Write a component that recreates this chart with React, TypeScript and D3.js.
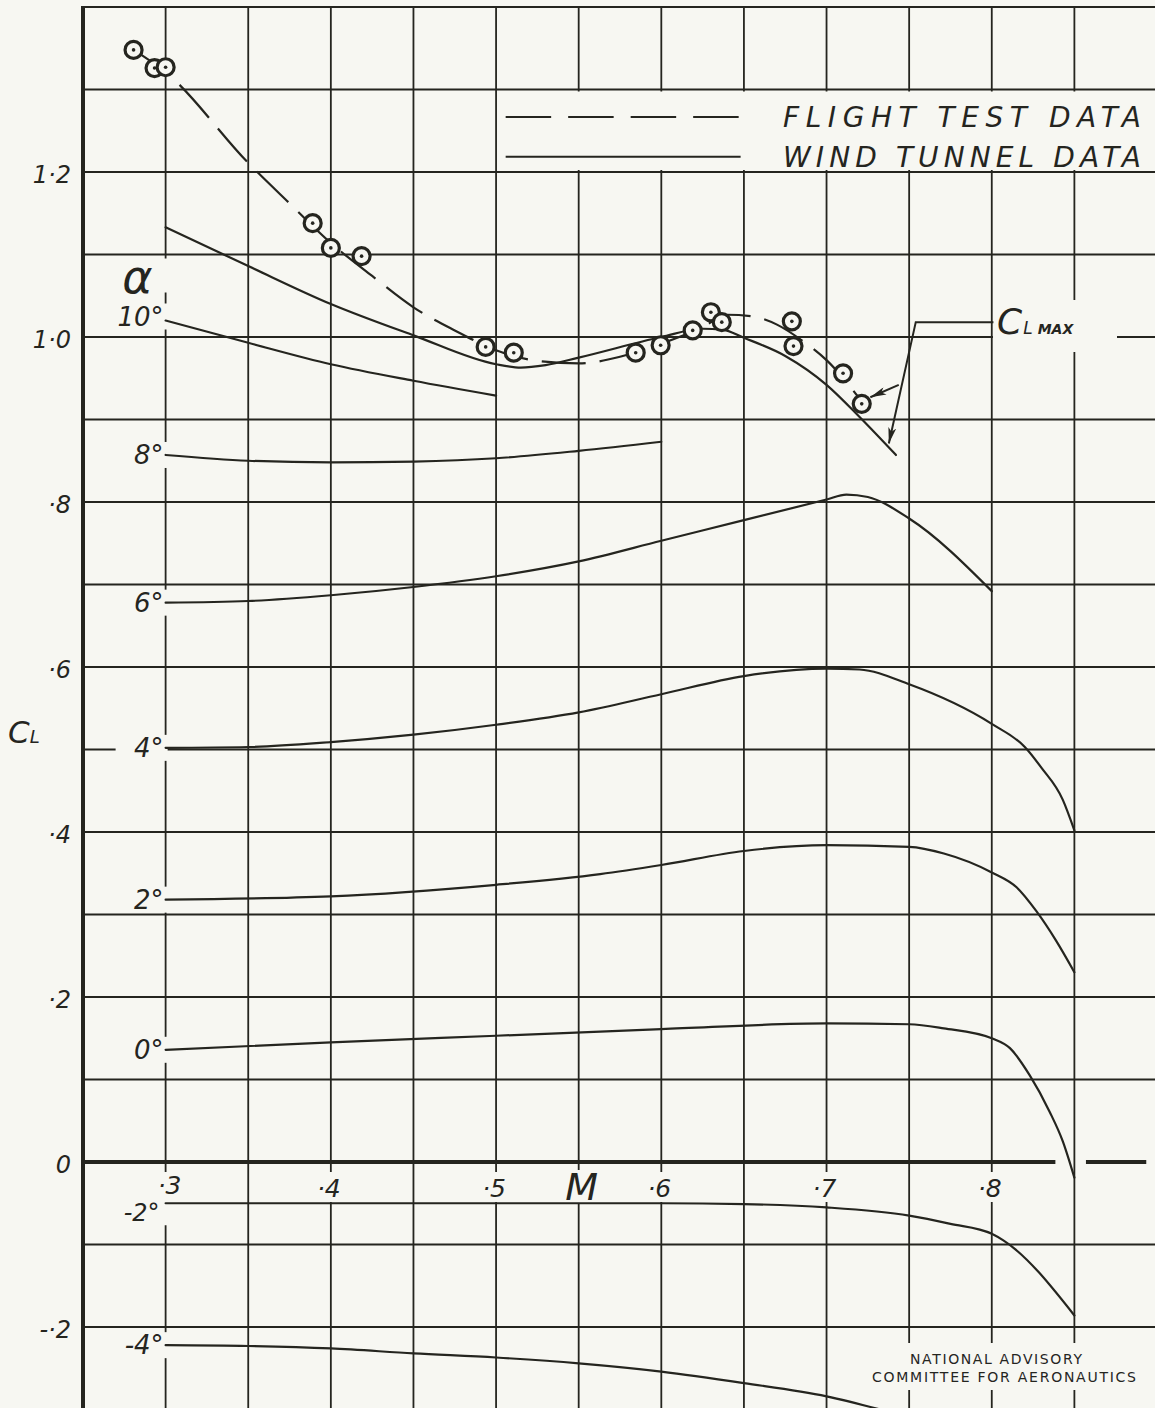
import React from 'react';
import * as d3 from 'd3';

const W = 1155;
const H = 1408;
const ink = '#25251f';
const paper = '#f7f7f2';

// wind tunnel curves, [Mach, CL]
const clMaxTunnel = [[0.3, 1.133], [0.35, 1.086], [0.4, 1.040], [0.45, 1.002], [0.5, 0.967], [0.515, 0.963], [0.53, 0.966], [0.55, 0.975], [0.6, 1.0], [0.625, 1.010], [0.637, 1.009], [0.65, 0.999], [0.675, 0.977], [0.7, 0.942], [0.72, 0.903], [0.742, 0.857]];
const alpha10 = [[0.3, 1.020], [0.35, 0.993], [0.4, 0.967], [0.45, 0.947], [0.5, 0.929]];
const alpha8 = [[0.3, 0.857], [0.35, 0.850], [0.4, 0.848], [0.45, 0.849], [0.5, 0.853], [0.55, 0.862], [0.6, 0.873]];
const alpha6 = [[0.3, 0.678], [0.35, 0.680], [0.4, 0.687], [0.45, 0.697], [0.5, 0.710], [0.55, 0.728], [0.6, 0.753], [0.65, 0.778], [0.7, 0.803], [0.712, 0.809], [0.725, 0.806], [0.75, 0.780], [0.8, 0.692]];
const alpha4 = [[0.3, 0.502], [0.35, 0.503], [0.4, 0.509], [0.45, 0.518], [0.5, 0.530], [0.55, 0.545], [0.6, 0.567], [0.65, 0.589], [0.7, 0.598], [0.72, 0.597], [0.75, 0.579], [0.8, 0.531], [0.82, 0.503], [0.83, 0.478], [0.843, 0.439], [0.85, 0.402]];
const alpha2 = [[0.3, 0.318], [0.4, 0.322], [0.5, 0.336], [0.563, 0.349], [0.6, 0.360], [0.65, 0.377], [0.7, 0.384], [0.75, 0.382], [0.771, 0.374], [0.8, 0.351], [0.815, 0.333], [0.827, 0.304], [0.839, 0.268], [0.85, 0.230]];
const alpha0 = [[0.3, 0.136], [0.4, 0.145], [0.5, 0.153], [0.6, 0.161], [0.7, 0.168], [0.75, 0.167], [0.771, 0.162], [0.8, 0.150], [0.811, 0.138], [0.823, 0.105], [0.835, 0.061], [0.843, 0.025], [0.85, -0.019]];
const alphaM2 = [[0.3, -0.050], [0.4, -0.050], [0.5, -0.050], [0.6, -0.050], [0.65, -0.051], [0.7, -0.055], [0.75, -0.065], [0.775, -0.075], [0.8, -0.087], [0.807, -0.095], [0.85, -0.186]];
const alphaM4 = [[0.3, -0.222], [0.35, -0.223], [0.4, -0.226], [0.45, -0.232], [0.5, -0.237], [0.55, -0.244], [0.6, -0.254], [0.65, -0.268], [0.7, -0.284], [0.74, -0.304]];

const tunnelCurves = [alpha10, alpha8, alpha6, alpha4, alpha2, alpha0, alphaM2, alphaM4];
const alphaLabels = ['10°', '8°', '6°', '4°', '2°', '0°', '-2°', '-4°'];

// flight test
const flightPoints = [[0.2806, 1.348], [0.2933, 1.326], [0.3, 1.327], [0.389, 1.138], [0.4, 1.108], [0.4186, 1.098], [0.4937, 0.988], [0.5107, 0.981], [0.5845, 0.981], [0.5996, 0.990], [0.619, 1.008], [0.630, 1.030], [0.6366, 1.018], [0.679, 1.019], [0.680, 0.989], [0.710, 0.956], [0.7213, 0.919]];
const flightFair = [[0.2806, 1.348], [0.3, 1.321], [0.35, 1.211], [0.375, 1.162], [0.4, 1.114], [0.425, 1.074], [0.45, 1.036], [0.475, 1.008], [0.5, 0.984], [0.525, 0.971], [0.55, 0.968], [0.575, 0.976], [0.6, 0.992], [0.625, 1.012], [0.64, 1.027], [0.655, 1.025], [0.67, 1.015], [0.685, 0.996], [0.7, 0.972], [0.722, 0.920]];

// C_L max leader lines
const clMaxLeader = [[0.801, 1.018], [0.754, 1.018], [0.7377, 0.871]];
const clMaxBranch = [[0.7437, 0.942], [0.7265, 0.927]];

const xTicks = [0.3, 0.4, 0.5, 0.6, 0.7, 0.8];
const xTickLabels = ['·3', '·4', '·5', '·6', '·7', '·8'];
const yTicks = [1.2, 1.0, 0.8, 0.6, 0.4, 0.2, 0, -0.2];
const yTickLabels = ['1·2', '1·0', '·8', '·6', '·4', '·2', '0', '-·2'];

const hand = "'DejaVu Sans', 'Liberation Sans', sans-serif";

export default function App() {
  const x = d3.scaleLinear().domain([0.25, 0.9]).range([83, 1157]);
  const y = d3.scaleLinear().domain([-0.3, 1.4]).range([1409.5, 7]);

  const curve = d3.line<number[]>().x(d => x(d[0])).y(d => y(d[1])).curve(d3.curveMonotoneX);
  const straight = d3.line<number[]>().x(d => x(d[0])).y(d => y(d[1]));

  const vGrid = d3.range(6, 18).map(i => i * 0.05);
  const hGrid = d3.range(-2, 15).map(i => i / 10).filter(v => Math.abs(v) > 1e-9);

  const labelNudge: Record<string, number> = { '10°': -4, '-2°': 9 };
  const labelShift: Record<string, number> = { '-2°': -4 };

  return (
    <svg width={W} height={H} style={{ position: 'absolute', left: 0, top: 0, display: 'block' }}>
      <defs>
        <marker id="arr" viewBox="0 0 16 8" refX="16" refY="4" markerWidth="16" markerHeight="8"
          markerUnits="userSpaceOnUse" orient="auto">
          <path d="M0,0 L16,4 L0,8 L4,4 z" fill={ink} />
        </marker>
      </defs>
      <rect width={W} height={H} fill={paper} />

      {/* grid */}
      <g stroke={ink} strokeWidth={1.8}>
        {vGrid.map(v => (
          <line key={'v' + v} x1={x(v)} x2={x(v)} y1={y(1.4)} y2={H} />
        ))}
        {hGrid.map(v => (
          <line key={'h' + v} x1={x(0.25)} x2={W} y1={y(v)} y2={y(v)} />
        ))}
        <line x1={x(0.25)} x2={W} y1={y(1.4)} y2={y(1.4)} />
      </g>

      {/* gaps in the grid behind lettering */}
      <g fill={paper}>
        <rect x={x(0.5) + 2} y={y(1.3) + 2} width={W} height={y(1.2) - y(1.3) - 4} />
        <rect x={993} y={300} width={124} height={52} />
        <rect x={868} y={1343} width={274} height={47} />
        {alphaLabels.map((lab, i) => {
          const p = tunnelCurves[i][0];
          const cy = y(p[1]) + (labelNudge[lab] || 0);
          const w = lab.length * 15 + 22;
          return <rect key={lab} x={x(p[0]) + 2 - w} y={cy - 13} width={w} height={26} />;
        })}
        <rect x={x(0.3) - 50} y={y(alpha10[0][1]) - 62} width={52} height={34} />
        {xTicks.map(v => (
          <rect key={'xt' + v} x={x(v) - 21} y={1172} width={38} height={30} />
        ))}
        <rect x={x(0.55) - 22} y={1170} width={48} height={34} />
      </g>

      {/* axes */}
      <line x1={x(0.25)} x2={x(0.25)} y1={y(1.4) - 1} y2={H} stroke={ink} strokeWidth={4} />
      <line x1={x(0.25)} x2={x(0.8385)} y1={y(0)} y2={y(0)} stroke={ink} strokeWidth={4} />
      <line x1={x(0.857)} x2={x(0.8935)} y1={y(0)} y2={y(0)} stroke={ink} strokeWidth={4} />

      {/* wind tunnel data */}
      <g fill="none" stroke={ink} strokeWidth={2.2} strokeLinecap="round">
        <path d={curve(clMaxTunnel) || ''} />
        {tunnelCurves.map((c, i) => (
          <path key={'c' + i} d={curve(c) || ''} />
        ))}
      </g>

      {/* flight test data */}
      <path d={curve(flightFair) || ''} fill="none" stroke={ink} strokeWidth={2.2} strokeDasharray="44 14" />
      {flightPoints.map((p, i) => (
        <g key={'f' + i}>
          <circle cx={x(p[0])} cy={y(p[1])} r={8.5} fill={paper} stroke={ink} strokeWidth={3.2} />
          <circle cx={x(p[0])} cy={y(p[1])} r={1.8} fill={ink} />
        </g>
      ))}

      {/* C_L max annotation */}
      <g fill="none" stroke={ink} strokeWidth={2}>
        <path d={straight(clMaxLeader) || ''} markerEnd="url(#arr)" />
        <path d={straight(clMaxBranch) || ''} markerEnd="url(#arr)" />
      </g>
      <text x={997} y={334} fill={ink} fontFamily={hand} fontStyle="italic" fontSize={36}>
        C<tspan fontSize={17} dx={1}>L</tspan><tspan fontSize={14} fontWeight="bold" dx={5}>MAX</tspan>
      </text>

      {/* legend */}
      <line x1={x(0.5058)} x2={x(0.648)} y1={y(1.2667)} y2={y(1.2667)} stroke={ink} strokeWidth={2} strokeDasharray="45.5 17" />
      <line x1={x(0.5058)} x2={x(0.648)} y1={y(1.2185)} y2={y(1.2185)} stroke={ink} strokeWidth={2} />
      <g fill={ink} fontFamily={hand} fontStyle="italic" fontSize={28}>
        <text x={783} y={127} textLength={358} lengthAdjust="spacing">FLIGHT TEST DATA</text>
        <text x={783} y={167} textLength={358} lengthAdjust="spacing">WIND TUNNEL DATA</text>
      </g>

      {/* alpha labels */}
      <g fill={ink} fontFamily={hand} fontStyle="italic" fontSize={26} textAnchor="end">
        {alphaLabels.map((lab, i) => {
          const p = tunnelCurves[i][0];
          const cy = y(p[1]) + (labelNudge[lab] || 0);
          return (
            <text key={'l' + lab} x={x(p[0]) - 2 + (labelShift[lab] || 0)} y={cy + 9}
              fontSize={lab === '-2°' ? 24 : 26}>{lab}</text>
          );
        })}
      </g>
      <text x={x(0.3) - 13} y={y(alpha10[0][1]) - 28} fill={ink} fontFamily={hand} fontStyle="italic" fontSize={46} textAnchor="end">α</text>

      {/* tick labels */}
      <g fill={ink} fontFamily={hand} fontStyle="italic" fontSize={24} textAnchor="end">
        {yTicks.map((v, i) => (
          <text key={'yl' + v} x={71} y={y(v) + 11}>{yTickLabels[i]}</text>
        ))}
      </g>
      <g fill={ink} fontFamily={hand} fontStyle="italic" fontSize={25} textAnchor="middle">
        {xTicks.map((v, i) => (
          <text key={'xl' + v} x={x(v) + (i === 0 ? 4 : -2)} y={i === 0 ? 1194 : 1197}>{xTickLabels[i]}</text>
        ))}
      </g>
      <text x={x(0.55) + 3} y={1200} fill={ink} fontFamily={hand} fontStyle="italic" fontSize={38} fontWeight={300} textAnchor="middle">M</text>
      <text x={8} y={743} fill={ink} fontFamily={hand} fontStyle="italic" fontSize={31}>
        C<tspan fontSize={18}>L</tspan>
      </text>

      {/* credit */}
      <g fill={ink} fontFamily="'DejaVu Sans', sans-serif" fontSize={14} textAnchor="middle">
        <text x={996} y={1364} textLength={172} lengthAdjust="spacing">NATIONAL ADVISORY</text>
        <text x={1004} y={1382} textLength={264} lengthAdjust="spacing">COMMITTEE FOR AERONAUTICS</text>
      </g>
    </svg>
  );
}
